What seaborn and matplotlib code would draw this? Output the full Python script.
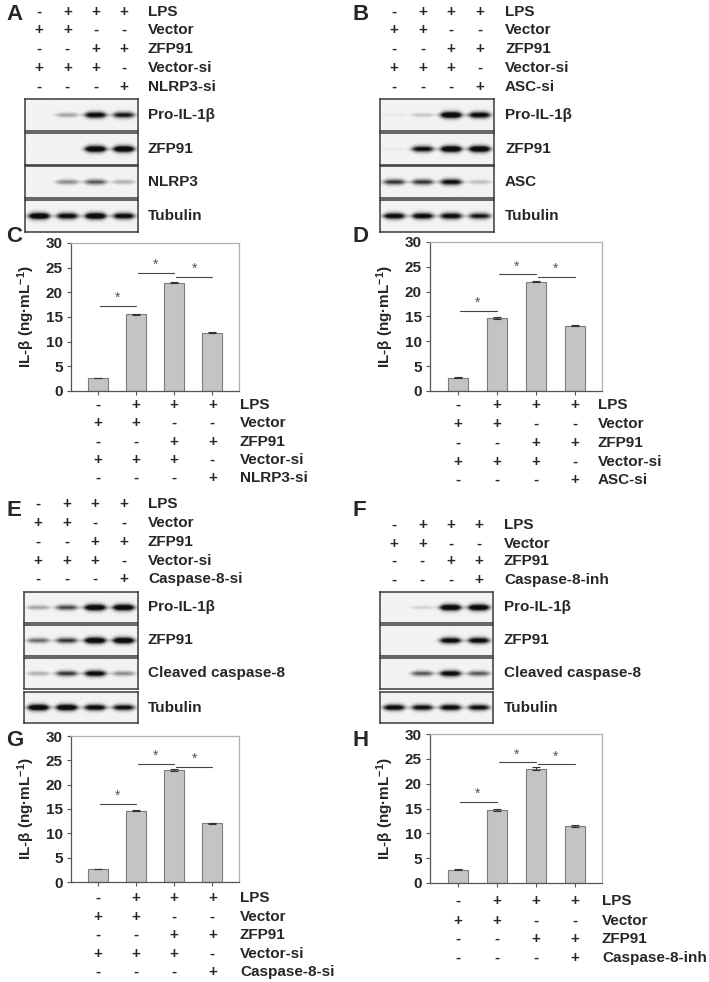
import numpy as np
import pandas as pd
import matplotlib
matplotlib.use("Agg")
import matplotlib.pyplot as plt
import seaborn as sns
from matplotlib import transforms
from matplotlib.colors import LinearSegmentedColormap

# ---------------- data ----------------
lanes = [0, 1, 2, 3]
cond_names = ["1", "2", "3", "4"]

rows_A = ["LPS", "Vector", "ZFP91", "Vector-si", "NLRP3-si"]
signs_A = [list("-+++"), list("++--"), list("--++"), list("+++-"), list("---+")]
rows_B = ["LPS", "Vector", "ZFP91", "Vector-si", "ASC-si"]
signs_B = signs_A
rows_E = ["LPS", "Vector", "ZFP91", "Vector-si", "Caspase-8-si"]
signs_E = signs_A
rows_F = ["LPS", "Vector", "ZFP91", "Caspase-8-inh"]
signs_F = [list("-+++"), list("++--"), list("--++"), list("---+")]

blot_A_names = ["Pro-IL-1β", "ZFP91", "NLRP3", "Tubulin"]
blot_A_bands = [[0.0, 0.35, 0.9, 0.8], [0.0, 0.0, 1.0, 1.0],
                [0.0, 0.45, 0.6, 0.3], [1.0, 0.9, 1.0, 0.9]]
blot_B_names = ["Pro-IL-1β", "ZFP91", "ASC", "Tubulin"]
blot_B_bands = [[0.05, 0.2, 1.0, 0.9], [0.05, 0.85, 1.0, 1.0],
                [0.7, 0.7, 0.85, 0.25], [0.9, 0.9, 0.9, 0.8]]
blot_E_names = ["Pro-IL-1β", "ZFP91", "Cleaved caspase-8", "Tubulin"]
blot_E_bands = [[0.35, 0.65, 1.0, 1.0], [0.55, 0.7, 1.0, 1.0],
                [0.3, 0.7, 0.9, 0.45], [1.0, 1.0, 0.9, 0.85]]
blot_F_names = ["Pro-IL-1β", "ZFP91", "Cleaved caspase-8", "Tubulin"]
blot_F_bands = [[0.0, 0.15, 1.0, 1.0], [0.0, 0.0, 0.9, 0.9],
                [0.0, 0.6, 0.9, 0.6], [0.9, 0.85, 0.9, 0.85]]

il_C = [2.6, 15.6, 21.9, 11.8]
err_C = [0.05, 0.1, 0.1, 0.1]
il_D = [2.7, 14.7, 22.0, 13.1]
err_D = [0.05, 0.15, 0.15, 0.1]
il_G = [2.7, 14.6, 23.0, 12.1]
err_G = [0.05, 0.1, 0.2, 0.1]
il_H = [2.7, 14.7, 23.0, 11.5]
err_H = [0.05, 0.2, 0.3, 0.15]
sig_C = [17.2, 23.9, 23.1]
sig_D = [16.1, 23.5, 22.9]
sig_G = [16.0, 24.2, 23.6]
sig_H = [16.3, 24.3, 23.9]
yticks = [0, 5, 10, 15, 20, 25, 30]

# ---------------- style ----------------
sns.set_style("white")
plt.rcParams["font.family"] = ["Liberation Sans", "DejaVu Sans"]
plt.rcParams["font.weight"] = "bold"
plt.rcParams["mathtext.fontset"] = "custom"
plt.rcParams["mathtext.rm"] = "Liberation Sans:bold"
plt.rcParams["mathtext.default"] = "rm"

W, H = 709, 982
fig = plt.figure(figsize=(W / 100, H / 100), dpi=100)
fig.patch.set_facecolor("white")
FS = 11


def fy(y):
    return 1 - y / H


def fx(x):
    return x / W


def axes_px(x0, y0, x1, y1):
    return fig.add_axes([x0 / W, 1 - y1 / H, (x1 - x0) / W, (y1 - y0) / H])


blot_cmap = LinearSegmentedColormap.from_list("blot", ["#f3f3f3", "#9a9a9a", "#0c0c0c"])


def band_image(vals):
    xs = np.linspace(-0.5, 3.5, 400)
    ys = np.linspace(0, 1, 90)
    X, Y = np.meshgrid(xs, ys)
    img = np.zeros_like(X)
    for i, v in enumerate(vals):
        if v <= 0:
            continue
        hx = np.exp(-np.abs((X - i) / 0.42) ** 4)
        sig = (0.05 + 0.07 * v) * (0.45 + 0.55 * hx)
        img += v * hx * np.exp(-((Y - 0.5) / sig) ** 2)
    return np.clip(img * 1.25, 0, 1)


def letter(x, y, s):
    fig.text(fx(x), fy(y), s, fontsize=16, fontweight="bold", ha="left", va="center")


def blot_panel(x0, x1, boxes, names, bands, label_x, rows, signs, row_ys):
    axs = []
    for (y0, y1), name, vals in zip(boxes, names, bands):
        ax = axes_px(x0, y0, x1, y1)
        ax.imshow(band_image(vals), extent=(-0.5, 3.5, 0, 1), origin="lower",
                  aspect="auto", cmap=blot_cmap, vmin=0, vmax=1, interpolation="bilinear")
        ax.set_xlim(-0.5, 3.5)
        ax.set_ylim(0, 1)
        ax.set_xticks([])
        ax.set_yticks([])
        for sp in ax.spines.values():
            sp.set_visible(True)
            sp.set_color("#3a3a3a")
            sp.set_linewidth(1.1)
        fig.text(fx(label_x), fy((y0 + y1) / 2), name, fontsize=FS, ha="left", va="center")
        axs.append(ax)
    tr = transforms.blended_transform_factory(axs[0].transData, fig.transFigure)
    for rname, rs, ry in zip(rows, signs, row_ys):
        for c, s in zip(lanes, rs):
            fig.text(c, fy(ry), s, transform=tr, fontsize=FS, ha="center", va="center")
        fig.text(fx(label_x), fy(ry), rname, fontsize=FS, ha="left", va="center")


def bar_panel(box, vals, errs, sigs, rows, signs, row_ys, label_x):
    ax = axes_px(*box)
    df = pd.DataFrame({"cond": cond_names, "val": vals})
    sns.barplot(data=df, x="cond", y="val", color="#c4c4c4", saturation=1,
                edgecolor="#7c7c7c", linewidth=0.8, width=0.52, errorbar=None, ax=ax)
    ax.errorbar(lanes, vals, yerr=errs, fmt="none", ecolor="#333333",
                capsize=3, elinewidth=0.8, capthick=0.8)
    ax.set_xlim(-0.71, 3.7)
    ax.set_ylim(0, 30)
    ax.set_yticks(yticks)
    ax.set_xticks(lanes)
    ax.set_xticklabels([])
    ax.set_xlabel("")
    ax.set_ylabel("IL-β (ng·mL$^{-1}$)", fontsize=FS, fontweight="bold", labelpad=6)
    ax.tick_params(axis="y", direction="out", length=3, width=0.8, color="#555555",
                   labelsize=FS, pad=3, left=True)
    ax.tick_params(axis="x", direction="out", length=3, width=0.8, color="#555555", bottom=True)
    for lbl in ax.get_yticklabels():
        lbl.set_fontweight("bold")
    for side in ["left", "bottom"]:
        ax.spines[side].set_color("#555555")
        ax.spines[side].set_linewidth(0.9)
    for side in ["top", "right"]:
        ax.spines[side].set_visible(True)
        ax.spines[side].set_color("#b0b0b0")
        ax.spines[side].set_linewidth(0.9)
    for i, lvl in enumerate(sigs):
        ax.plot([i + 0.05, i + 1.0], [lvl, lvl], color="#444444", lw=0.8)
        ax.text(i + 0.52, lvl + 0.2, "*", ha="center", va="bottom", fontsize=10,
                color="#555555", fontweight="normal")
    tr = transforms.blended_transform_factory(ax.transData, fig.transFigure)
    for rname, rs, ry in zip(rows, signs, row_ys):
        for c, s in zip(lanes, rs):
            fig.text(c, fy(ry), s, transform=tr, fontsize=FS, ha="center", va="center")
        fig.text(fx(label_x), fy(ry), rname, fontsize=FS, ha="left", va="center")
    return ax


# ---------------- layout ----------------
blot_rows_top = [(99, 131), (133, 165), (166, 198), (200, 232)]
blot_rows_mid = [(592, 623), (625, 656), (658, 689), (692, 723)]

letter(6, 15, "A")
blot_panel(25, 138, blot_rows_top, blot_A_names, blot_A_bands, 148,
           rows_A, signs_A, [12, 30, 49, 68, 87])
letter(352, 15, "B")
blot_panel(380, 494, blot_rows_top, blot_B_names, blot_B_bands, 505,
           rows_B, signs_B, [12, 30, 49, 68, 87])

letter(6, 236, "C")
bar_panel((71, 243, 239, 391), il_C, err_C, sig_C, rows_A, signs_A,
          [405, 423, 442, 460, 478], 240)
letter(352, 236, "D")
bar_panel((430, 242, 602, 391), il_D, err_D, sig_D, rows_B, signs_B,
          [405, 424, 443, 462, 480], 598)

letter(6, 510, "E")
blot_panel(24, 138, blot_rows_mid, blot_E_names, blot_E_bands, 148,
           rows_E, signs_E, [504, 523, 542, 561, 579])
letter(352, 510, "F")
blot_panel(380, 493, blot_rows_mid, blot_F_names, blot_F_bands, 504,
           rows_F, signs_F, [525, 544, 561, 580])

letter(6, 741, "G")
bar_panel((71, 736, 239, 882), il_G, err_G, sig_G, rows_E, signs_E,
          [898, 917, 935, 954, 972], 240)
letter(352, 741, "H")
bar_panel((430, 734, 602, 883), il_H, err_H, sig_H, rows_F, signs_F,
          [901, 921, 939, 958], 602)

fig.savefig("out.png", dpi=100, facecolor="white")
